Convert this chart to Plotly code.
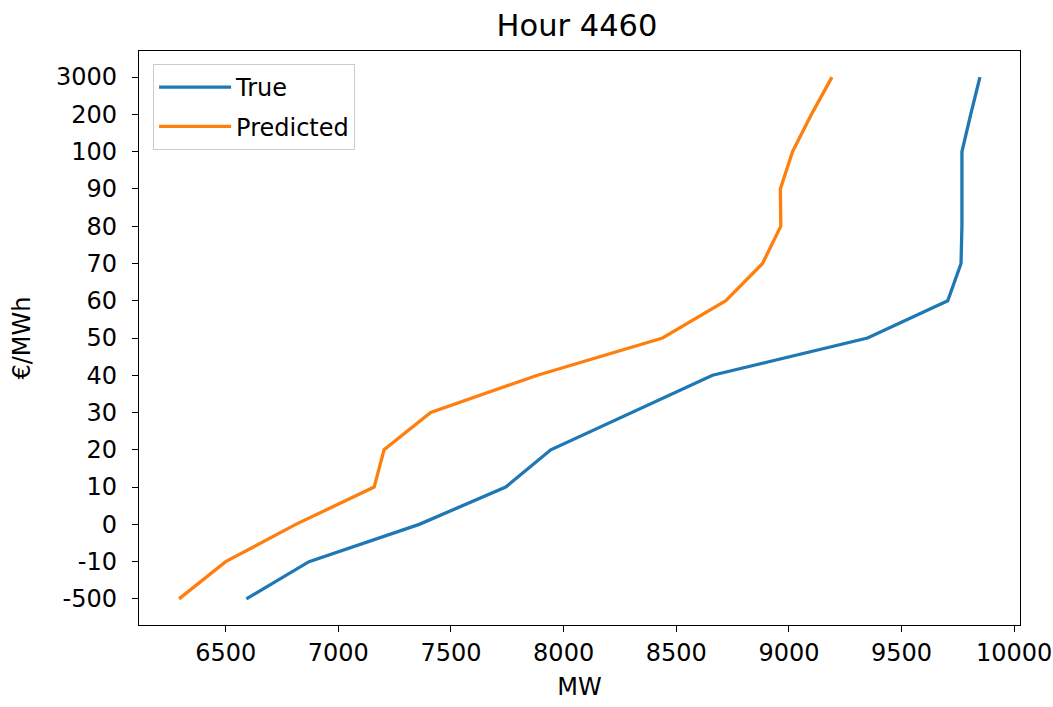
import plotly.graph_objects as go

# Data
price_levels = ["-500", "-10", "0", "10", "20", "30", "40", "50", "60", "70",
                "80", "90", "100", "200", "3000"]
true_mw = [6592, 6870, 7359, 7743, 7943, 8301, 8661, 9349, 9705, 9764,
           9768, 9768, 9768, 9807, 9848]
pred_mw = [6293, 6500, 6811, 7159, 7203, 7410, 7884, 8439, 8720, 8883,
           8964, 8962, 9016, 9100, 9191]
x_ticks = [6500, 7000, 7500, 8000, 8500, 9000, 9500, 10000]

FONT = "DejaVu Sans"
TXT = "#000000"

all_x = true_mw + pred_mw
xmin, xmax = min(all_x), max(all_x)
pad = 0.05 * (xmax - xmin)
n = len(price_levels)

fig = go.Figure()
fig.add_trace(go.Scatter(x=true_mw, y=price_levels, mode="lines", name="True",
                         legendgroup="true",
                         line=dict(color="#1f77b4", width=3.3)))
fig.add_trace(go.Scatter(x=pred_mw, y=price_levels, mode="lines", name="Predicted",
                         legendgroup="pred",
                         line=dict(color="#ff7f0e", width=3.3)))

axis_common = dict(
    showgrid=False, zeroline=False, showline=True, mirror=True,
    linecolor="#000000", linewidth=1.4, ticks="outside", ticklen=6,
    tickwidth=1.4, tickcolor="#000000",
    tickfont=dict(family=FONT, size=24, color=TXT),
    ticklabeloverflow="allow", automargin=False,
)

fig.update_layout(
    width=1053, height=707,
    margin=dict(l=139, r=33, t=51, b=82),
    paper_bgcolor="white", plot_bgcolor="white",
    font=dict(family=FONT, color=TXT),
    title=dict(text="Hour 4460", x=577 / 1053, xanchor="center",
               y=1 - 25 / 707, yanchor="middle",
               font=dict(family=FONT, size=30.5, color=TXT)),
    xaxis=dict(range=[xmin - pad, xmax + pad], tickvals=x_ticks,
               ticktext=[str(v) for v in x_ticks],
               title=dict(text="MW", font=dict(family=FONT, size=24, color=TXT),
                          standoff=12),
               **axis_common),
    yaxis=dict(type="category", categoryorder="array", categoryarray=price_levels,
               range=[-0.7, n - 1 + 0.7], ticklabelstandoff=10,
               title=dict(text="€/MWh", font=dict(family=FONT, size=24, color=TXT),
                          standoff=18),
               **axis_common),
    legend=dict(x=0.016, y=(625 - 64) / 574, xanchor="left", yanchor="top",
                bgcolor="white", bordercolor="#cccccc", borderwidth=1,
                itemwidth=72, tracegroupgap=5,
                font=dict(family=FONT, size=24, color=TXT)),
    showlegend=True,
)

fig.write_html("out.html")
